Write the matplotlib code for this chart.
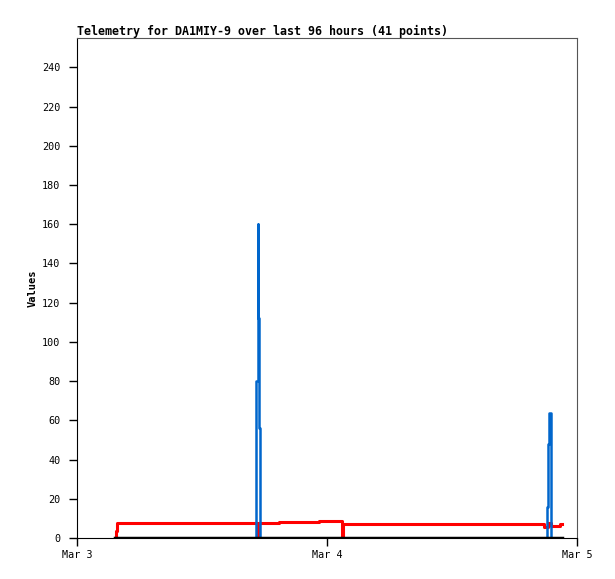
import matplotlib
matplotlib.use('Agg')
import matplotlib.pyplot as plt
import matplotlib.dates as mdates
import numpy as np
from datetime import datetime, timedelta

start = datetime(2024, 3, 3)

# hours after Mar 3 00:00
red_hours = [3.65, 3.75, 3.85, 17.38, 17.45, 19.4, 23.2, 25.44, 25.56,
             44.83, 45.2, 45.5, 46.37, 46.56]
red_vals = [0, 3.5, 7.8, 0, 7.8, 8.3, 8.8, 0, 7.0,
            5.8, 7.6, 6.1, 7.0, 7.0]

blue_hours = [3.65, 17.23, 17.33, 17.42, 17.49, 17.55,
              45.15, 45.22, 45.31, 45.46, 46.56]
blue_vals = [0, 80, 160, 112, 56, 0,
             16, 48, 64, 0, 0]

black_hours = [3.65, 46.56]
black_vals = [0, 0]

def to_dates(hours):
    return [start + timedelta(hours=h) for h in hours]

plt.rcParams['font.family'] = ['DejaVu Sans Mono']

fig = plt.figure(figsize=(6.15, 5.79), dpi=100)
ax = fig.add_axes([77 / 615, 41 / 579, 500 / 615, 500 / 579])

ax.plot(to_dates(red_hours), red_vals, color='#ff0000', lw=2.2,
        drawstyle='steps-post', zorder=3)
ax.plot(to_dates(blue_hours), blue_vals, color='#0066cc', lw=1.8,
        drawstyle='steps-post', zorder=4)
ax.plot(to_dates(black_hours), black_vals, color='black', lw=2.5, zorder=5)

ax.set_xlim(start, start + timedelta(hours=48))
ax.set_ylim(0, 255)
ax.set_yticks(np.arange(0, 241, 20))
ax.xaxis.set_major_locator(mdates.DayLocator())
ax.xaxis.set_major_formatter(mdates.DateFormatter('%b %-d'))

ax.tick_params(direction='out', length=6, width=1, labelsize=7.3)
ax.tick_params(axis='y', pad=6)
ax.tick_params(axis='x', pad=3)
for side in ['top', 'right']:
    ax.spines[side].set_color('#555555')
for side in ['left', 'bottom']:
    ax.spines[side].set_color('black')

ax.set_ylabel('Values', fontsize=7.5, fontweight='bold', labelpad=3)
ax.set_title('Telemetry for DA1MIY-9 over last 96 hours (41 points)',
             loc='left', fontsize=8.4, fontweight='bold', pad=2)

fig.savefig('out.png', dpi=100)
